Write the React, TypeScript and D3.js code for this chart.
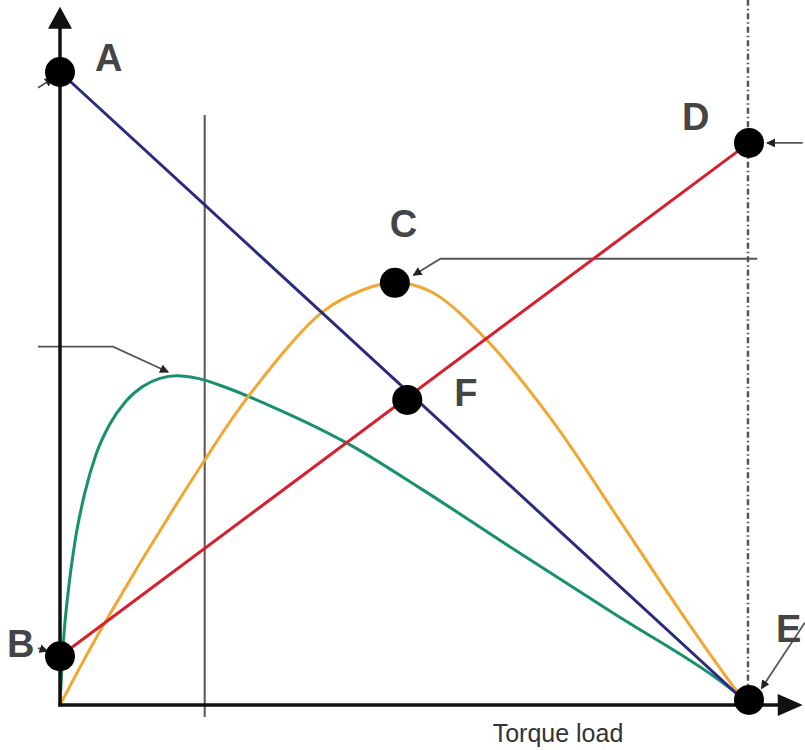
import React from "react";
import * as d3 from "d3";

// Data (torque load 0..100, normalized value 0..100)
const blueSpeed: [number, number][] = [[0, 100], [100, 0]];
const redCurrent: [number, number][] = [[0, 7.7], [100, 88.8]];
const orangePower: [number, number][] = [
  [0, 0], [6.5, 13.0], [21.0, 38.7], [27.5, 49.0], [38.1, 62.1], [44, 65.6], [48.6, 66.8],
  [54, 65.2], [61.9, 57.7], [71.4, 45.0], [81.2, 29.2], [90.9, 13.4], [98.1, 2.4], [100, 0],
];
const greenEff: [number, number][] = [
  [0, 0], [0.5, 10], [1.2, 18], [2.2, 26], [3.6, 33.5], [5.2, 39.5], [7.2, 44.3], [9.5, 47.9],
  [12, 50.3], [14.5, 51.6], [17, 52.0], [20, 51.6], [24, 50.2], [30, 47.5], [41.6, 41.4],
  [52.2, 34.3], [66.7, 24.0], [81.2, 13.9], [95.7, 3.9], [100, 0.3],
];
const pointLabels = ["A", "B", "C", "D", "E", "F"];
const pointX = [0, 0, 48.6, 100, 100, 50.4];
const pointY = [100, 7.7, 66.7, 88.8, 0.8, 48.2];
const labelDx = [35, -53, -5, -67, 27, 47];
const labelDy = [-1, 1, -46, -13, -58, 6];
const xLabel = "Torque load";

const leaders: [number, number][][] = [
  [[-3.2, 97.5], [-1.0, 99.0]],
  [[-3.2, 9.0], [-1.8, 8.5]],
  [[101.2, 70.5], [55.2, 70.5], [51.3, 67.9]],
  [[107.8, 88.8], [102.6, 88.8]],
  [[108.1, 13.0], [101.8, 2.6]],
  [[-3.2, 56.6], [7.7, 56.6], [15.7, 52.6]],
];

export default function App() {
  const W = 805, H = 750;
  const x = d3.scaleLinear().domain([0, 100]).range([60, 749]);
  const y = d3.scaleLinear().domain([0, 100]).range([705, 72]);
  const straight = d3.line<[number, number]>().x(d => x(d[0])).y(d => y(d[1]));
  const smooth = d3.line<[number, number]>().x(d => x(d[0])).y(d => y(d[1])).curve(d3.curveCatmullRom.alpha(0.5));
  const mono = d3.line<[number, number]>().x(d => x(d[0])).y(d => y(d[1])).curve(d3.curveMonotoneX);

  const x0 = x(0), y0 = y(0);
  const yTip = y(110.3), xTip = x(107.8);

  return (
    <svg width={W} height={H} style={{ position: "absolute", left: 0, top: 0, background: "#fff" }}
      fontFamily="Liberation Sans, Arial, sans-serif">
      <defs>
        <marker id="ah" viewBox="0 0 10 10" refX="9" refY="5" markerWidth="5" markerHeight="5" orient="auto">
          <path d="M0,0 L10,5 L0,10 z" fill="#222" />
        </marker>
      </defs>
      {/* vertical reference line */}
      <line x1={x(21.0)} x2={x(21.0)} y1={y(93.2)} y2={y(-1.9)} stroke="#555" strokeWidth={2} />
      {/* dash-dot line */}
      <line x1={x(99.85)} x2={x(99.85)} y1={y(111.4)} y2={y(2.4)} stroke="#555" strokeWidth={2.5}
        strokeDasharray="6 3 1.5 3" />
      {/* leaders */}
      {leaders.map((pts, i) => (
        <path key={i} d={straight(pts) || ""} fill="none" stroke="#555" strokeWidth={1.8} markerEnd="url(#ah)" />
      ))}
      {/* curves */}
      <path d={mono(greenEff) || ""} fill="none" stroke="#17906e" strokeWidth={3} />
      <path d={smooth(orangePower) || ""} fill="none" stroke="#f2a733" strokeWidth={3} />
      <path d={straight(redCurrent) || ""} fill="none" stroke="#d81f2c" strokeWidth={3} />
      <path d={straight(blueSpeed) || ""} fill="none" stroke="#2b2a7c" strokeWidth={3} />
      {/* axes */}
      <line x1={x0} x2={x0} y1={y0 + 1.5} y2={yTip + 15} stroke="#111" strokeWidth={3.5} />
      <path d={`M${x0},${yTip} L${x0 - 12},${yTip + 22} L${x0 + 12},${yTip + 22} Z`} fill="#111" />
      <line x1={x0 - 1.5} x2={xTip - 15} y1={y0} y2={y0} stroke="#111" strokeWidth={3.5} />
      <path d={`M${xTip},${y0} L${xTip - 25},${y0 - 11} L${xTip - 25},${y0 + 11} Z`} fill="#111" />
      {/* points */}
      {pointLabels.map((l, i) => (
        <g key={l}>
          <circle cx={x(pointX[i])} cy={y(pointY[i])} r={15} fill="#000" />
          <text x={x(pointX[i]) + labelDx[i]} y={y(pointY[i]) + labelDy[i]} fontSize={38} fontWeight="bold"
            fill="#454545">{l}</text>
        </g>
      ))}
      <text x={558} y={742} fontSize={25} textAnchor="middle" fill="#333">{xLabel}</text>
    </svg>
  );
}
